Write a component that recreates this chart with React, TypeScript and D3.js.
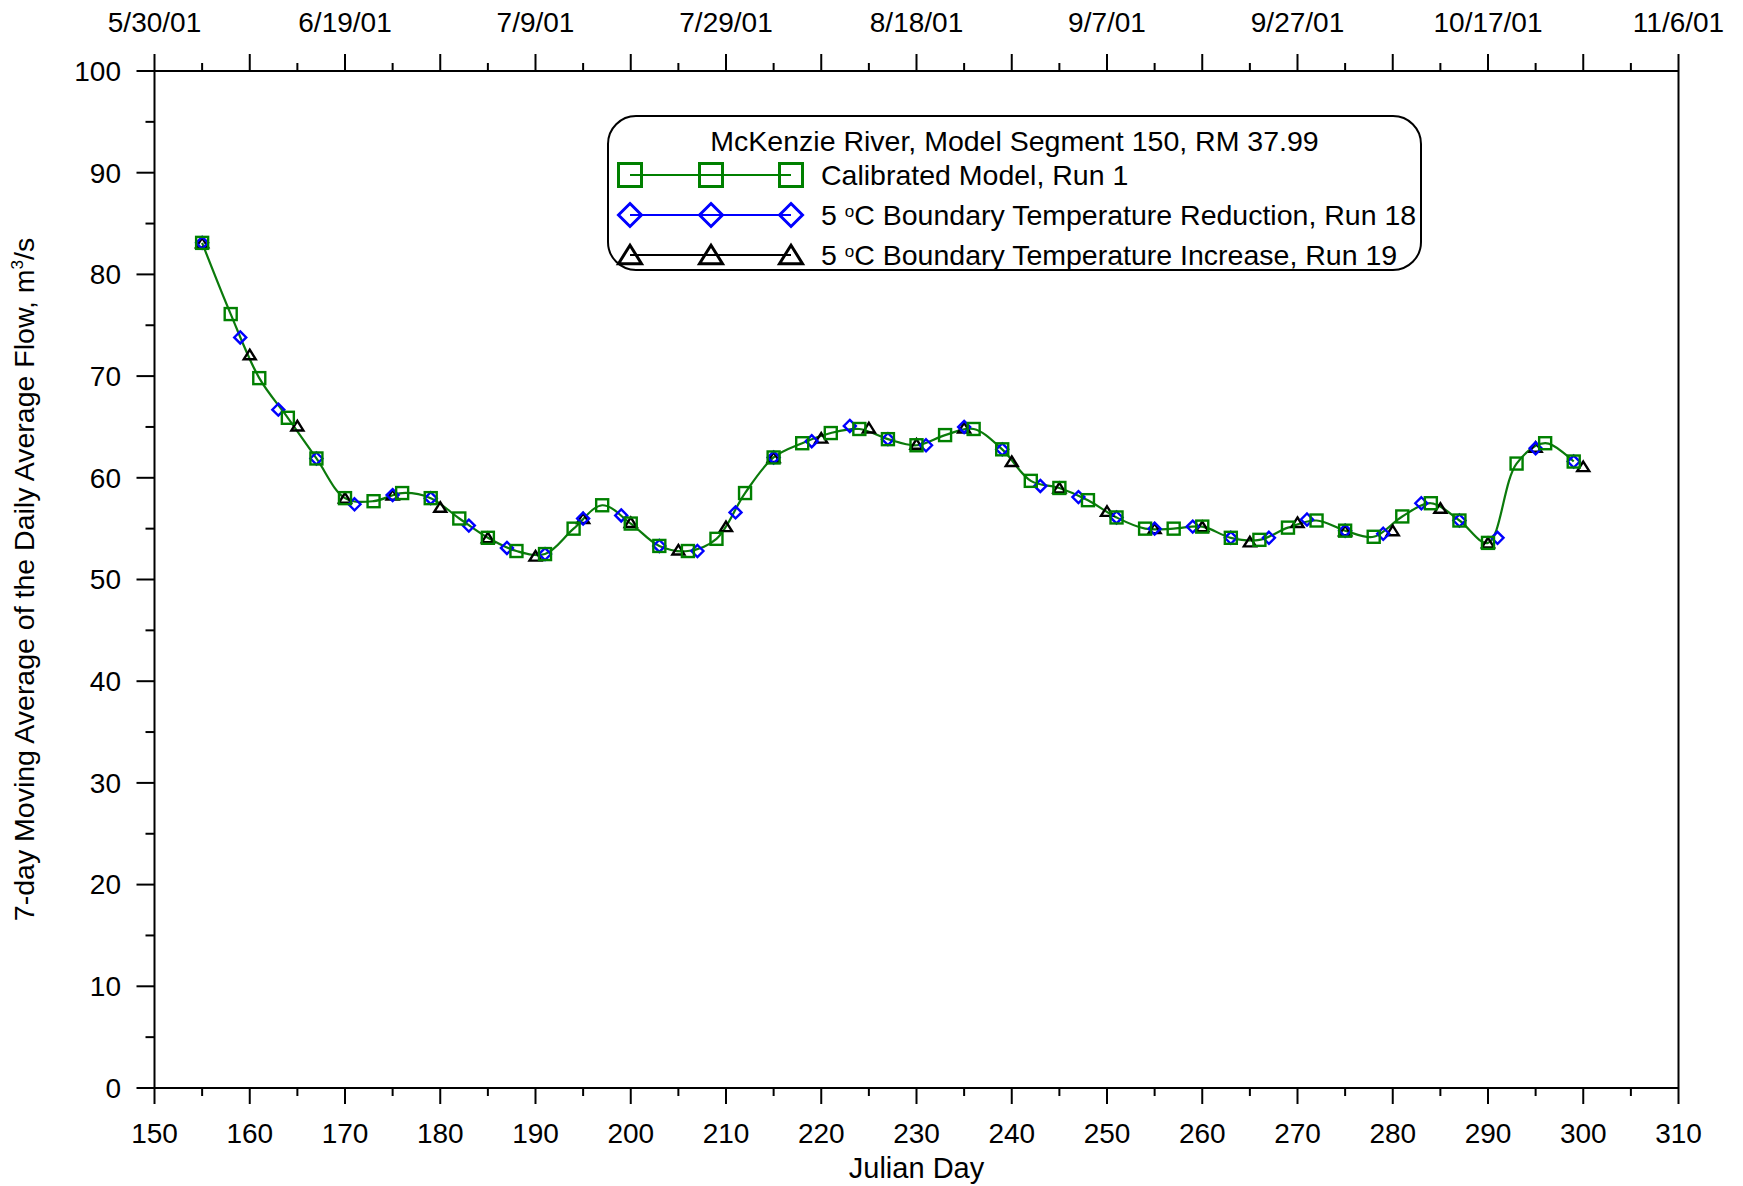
import * as d3 from 'd3'

const W = 1743
const H = 1186

// Calibrated Model, Run 1 (green squares)
const calDays = [155, 158, 161, 164, 167, 170, 173, 176, 179, 182, 185, 188, 191, 194, 197, 200, 203, 206, 209, 212, 215, 218, 221, 224, 227, 230, 233, 236, 239, 242, 245, 248, 251, 254, 257, 260, 263, 266, 269, 272, 275, 278, 281, 284, 287, 290, 293, 296, 299]
const calFlow = [83.1, 76.1, 69.8, 65.9, 61.9, 58.0, 57.7, 58.5, 58.0, 56.0, 54.1, 52.8, 52.5, 55.0, 57.3, 55.5, 53.3, 52.8, 54.0, 58.5, 62.0, 63.4, 64.4, 64.8, 63.8, 63.2, 64.2, 64.8, 62.8, 59.7, 59.0, 57.8, 56.1, 55.0, 55.0, 55.2, 54.1, 53.9, 55.1, 55.8, 54.8, 54.2, 56.2, 57.5, 55.8, 53.6, 61.4, 63.4, 61.6]

// 5 oC boundary temperature reduction, Run 18 (blue diamonds)
const redDays = [155, 159, 163, 167, 171, 175, 179, 183, 187, 191, 195, 199, 203, 207, 211, 215, 219, 223, 227, 231, 235, 239, 243, 247, 251, 255, 259, 263, 267, 271, 275, 279, 283, 287, 291, 295, 299]
const redFlow = [83.1, 73.8, 66.7, 61.9, 57.4, 58.3, 58.0, 55.3, 53.1, 52.5, 56.0, 56.3, 53.3, 52.8, 56.6, 62.0, 63.6, 65.1, 63.8, 63.2, 65.0, 62.8, 59.2, 58.1, 56.1, 55.0, 55.2, 54.1, 54.1, 55.9, 54.8, 54.5, 57.5, 55.8, 54.1, 62.9, 61.6]

// 5 oC boundary temperature increase, Run 19 (black triangles)
const incDays = [155, 160, 165, 170, 175, 180, 185, 190, 195, 200, 205, 210, 215, 220, 225, 230, 235, 240, 245, 250, 255, 260, 265, 270, 275, 280, 285, 290, 295, 300]
const incFlow = [83.1, 72.1, 65.1, 58.0, 58.3, 57.1, 54.1, 52.3, 56.0, 55.6, 52.9, 55.2, 62.0, 63.9, 64.9, 63.3, 64.9, 61.6, 59.0, 56.7, 55.0, 55.2, 53.7, 55.6, 54.8, 54.8, 57.0, 53.6, 63.0, 61.1]

const dateDays = [150, 170, 190, 210, 230, 250, 270, 290, 310]
const dateLabels = ['5/30/01', '6/19/01', '7/9/01', '7/29/01', '8/18/01', '9/7/01', '9/27/01', '10/17/01', '11/6/01']

const legendTitle = 'McKenzie River, Model Segment 150, RM 37.99'

const FONT = 'Arial, "Liberation Sans", sans-serif'

type Pt = { d: number; v: number }

function Marker({ kind, cx, cy, s, sw }: { kind: string; cx: number; cy: number; s: number; sw: number }) {
  const h = s / 2
  if (kind === 'square')
    return <rect x={cx - h} y={cy - h} width={s} height={s} fill="none" stroke="#008000" strokeWidth={sw} />
  if (kind === 'diamond')
    return <path d={`M${cx},${cy - h}L${cx + h},${cy}L${cx},${cy + h}L${cx - h},${cy}Z`} fill="none" stroke="#0000ff" strokeWidth={sw} />
  return <path d={`M${cx},${cy - h * 0.85}L${cx + h},${cy + h * 0.75}L${cx - h},${cy + h * 0.75}Z`} fill="none" stroke="#000" strokeWidth={sw} />
}

export default function App() {
  const x = d3.scaleLinear().domain([150, 310]).range([154.5, 1678.5])
  const y = d3.scaleLinear().domain([0, 100]).range([1088, 71])

  const majorX = d3.range(150, 311, 10)
  const minorX = d3.range(155, 310, 10)
  const majorY = d3.range(0, 101, 10)
  const minorY = d3.range(5, 100, 10)

  const mk = (days: number[], vals: number[]): Pt[] => days.map((d, i) => ({ d, v: vals[i] }))
  const series = [
    { pts: mk(incDays, incFlow), color: '#000', kind: 'triangle' },
    { pts: mk(redDays, redFlow), color: '#0000ff', kind: 'diamond' },
    { pts: mk(calDays, calFlow), color: '#008000', kind: 'square' },
  ]
  const cal = series[2]

  const line = d3
    .line<Pt>()
    .x((p) => x(p.d))
    .y((p) => y(p.v))
    .curve(d3.curveCatmullRom.alpha(0.5))

  const [x0, x1] = x.range()
  const [yb, yt] = y.range()

  // legend geometry
  const lg = { x: 608, y: 116, w: 813, h: 154 }
  const legendRows = [
    { label: 'Calibrated Model, Run 1', kind: 'square', color: '#008000', sup: false },
    { label: 'C Boundary Temperature Reduction, Run 18', kind: 'diamond', color: '#0000ff', sup: true },
    { label: 'C Boundary Temperature Increase, Run 19', kind: 'triangle', color: '#000', sup: true },
  ]
  const symX = [630, 711, 791]

  return (
    <svg width={W} height={H} style={{ position: 'absolute', left: 0, top: 0, background: '#fff' }} fontFamily={FONT}>
      {/* the three runs overlap almost exactly; the green line sits on top of the others */}
      <path d={line(cal.pts) ?? ''} fill="none" stroke="#0b7a0b" strokeWidth={2.2} />
      {series.map((s) =>
        s.pts.map((p, i) => <Marker key={s.kind + i} kind={s.kind} cx={x(p.d)} cy={y(p.v)} s={12} sw={2.4} />)
      )}

      {/* frame */}
      <g stroke="#000" strokeWidth={2}>
        <line x1={x0} x2={x1} y1={yb} y2={yb} />
        <line x1={x0} x2={x1} y1={yt} y2={yt} />
        <line x1={x0} x2={x0} y1={yt} y2={yb} />
        <line x1={x1} x2={x1} y1={yt} y2={yb} />
        {majorX.map((t) => (
          <line key={'bx' + t} x1={x(t)} x2={x(t)} y1={yb} y2={yb + 16} />
        ))}
        {minorX.map((t) => (
          <line key={'bm' + t} x1={x(t)} x2={x(t)} y1={yb} y2={yb + 8} />
        ))}
        {majorX.map((t) => (
          <line key={'tx' + t} x1={x(t)} x2={x(t)} y1={yt} y2={yt - 17} />
        ))}
        {minorX.map((t) => (
          <line key={'tm' + t} x1={x(t)} x2={x(t)} y1={yt} y2={yt - 8} />
        ))}
        {majorY.map((t) => (
          <line key={'ly' + t} x1={x0} x2={x0 - 18} y1={y(t)} y2={y(t)} />
        ))}
        {minorY.map((t) => (
          <line key={'lm' + t} x1={x0} x2={x0 - 9} y1={y(t)} y2={y(t)} />
        ))}
      </g>

      {/* tick labels */}
      <g fontSize={28} fill="#000">
        {majorX.map((t) => (
          <text key={'xl' + t} x={x(t)} y={yb + 55} textAnchor="middle">
            {t}
          </text>
        ))}
        {majorY.map((t) => (
          <text key={'yl' + t} x={121} y={y(t)} dy="0.35em" textAnchor="end">
            {t}
          </text>
        ))}
        {dateDays.map((t, i) => (
          <text key={'dl' + t} x={x(t)} y={32} textAnchor="middle">
            {dateLabels[i]}
          </text>
        ))}
      </g>

      {/* axis titles */}
      <text x={(x0 + x1) / 2} y={1178} textAnchor="middle" fontSize={29}>
        Julian Day
      </text>
      <text transform={`translate(34,${(yt + yb) / 2}) rotate(-90)`} textAnchor="middle" fontSize={28.5}>
        7-day Moving Average of the Daily Average Flow, m
        <tspan fontSize={17} dy={-11}>3</tspan>
        <tspan dy={11}>/s</tspan>
      </text>

      {/* legend */}
      <rect x={lg.x} y={lg.y} width={lg.w} height={lg.h} rx={28} ry={28} fill="#fff" stroke="#000" strokeWidth={2} />
      <text x={lg.x + lg.w / 2} y={151} textAnchor="middle" fontSize={28.5}>
        {legendTitle}
      </text>
      {legendRows.map((r, i) => {
        const cy = 175 + i * 40
        return (
          <g key={r.kind}>
            <line x1={symX[0]} x2={symX[2]} y1={cy} y2={cy} stroke={r.color} strokeWidth={2} />
            {symX.map((sx) => (
              <Marker key={sx} kind={r.kind} cx={sx} cy={cy} s={23} sw={3} />
            ))}
            <text x={821} y={cy} dy="0.35em" fontSize={28.5}>
              {r.sup ? (
                <>
                  {'5 '}
                  <tspan fontSize={17} dy={-8}>o</tspan>
                  <tspan dy={8}>{r.label}</tspan>
                </>
              ) : (
                r.label
              )}
            </text>
          </g>
        )
      })}
    </svg>
  )
}
